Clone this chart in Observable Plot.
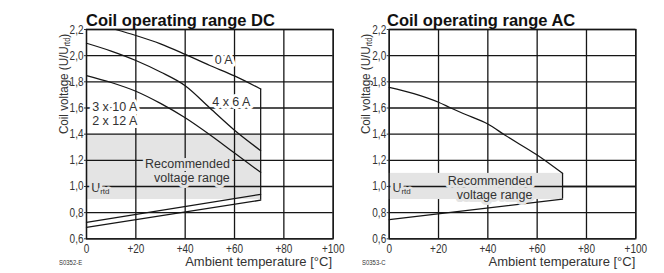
<!DOCTYPE html>
<html><head><meta charset="utf-8">
<script src="https://cdn.jsdelivr.net/npm/d3@7"></script>
<script src="https://cdn.jsdelivr.net/npm/@observablehq/plot@0.6"></script>
<style>
html,body{margin:0;padding:0;background:#fff;}
#wrap{position:relative;width:664px;height:273px;overflow:hidden;background:#fff;}
#wrap svg{position:absolute;left:0;top:0;}
.t{position:absolute;white-space:nowrap;line-height:1;color:#1a1a1a;font-family:"Liberation Sans",Arial,sans-serif;}
.title{font-weight:bold;font-size:16.5px;top:12px;color:#111;}
.ylab{font-size:13.5px;top:84px;transform:translate(-50%,-50%) rotate(-90deg) scale(0.86,1);color:#333;}
.ylab sub{font-size:8.5px;vertical-align:-2px;}
.xlab{font-size:13px;top:255.2px;color:#333;}
.code{font-size:7px;top:259px;color:#333;transform-origin:left center;transform:scale(0.85,1);}
</style>
</head><body>
<div id="wrap">
  <div class="t title" style="left:86px">Coil operating range DC</div>
  <div class="t title" style="left:387px">Coil operating range AC</div>
  <div class="t ylab" style="left:63.5px">Coil voltage (U/U<sub>rtd</sub>)</div>
  <div class="t ylab" style="left:366px">Coil voltage (U/U<sub>rtd</sub>)</div>
  <div class="t xlab" style="right:332px">Ambient temperature [°C]</div>
  <div class="t xlab" style="right:28.7px">Ambient temperature [°C]</div>
  <div class="t code" style="left:59.3px">S0352-E</div>
  <div class="t code" style="left:362px">S0353-C</div>
</div>
<script>
// ---- tick values ----
const xTicks = [0, 20, 40, 60, 80, 100];
const yTicks = [0.6, 0.8, 1.0, 1.2, 1.4, 1.6, 1.8, 2.0, 2.2];

// ---- DC chart data (ambient temperature °C, coil voltage U/Urtd) ----
const dc0A_t   = [11.8, 20, 30, 40, 50, 60, 70.6];
const dc0A_v   = [2.2, 2.154, 2.09, 2.01, 1.925, 1.845, 1.745];
const dc4x6_t  = [0, 10, 20, 30, 40, 50, 60, 70.6];
const dc4x6_v  = [2.095, 2.035, 1.963, 1.875, 1.77, 1.60, 1.43, 1.274];
const dc3x10_t = [0, 10, 20, 30, 40, 50, 60, 70.6];
const dc3x10_v = [1.848, 1.795, 1.728, 1.635, 1.525, 1.395, 1.255, 1.108];
const dcMinA_t = [0, 70.6];
const dcMinA_v = [0.725, 0.94];
const dcMinB_t = [0, 70.6];
const dcMinB_v = [0.687, 0.895];
const dcBand   = {x1: 0, x2: 70.6, y1: 0.9, y2: 1.4};

// ---- AC chart data ----
const acMax_t = [0, 10, 20, 25, 30, 40, 47.2, 60, 70.3];
const acMax_v = [1.758, 1.71, 1.644, 1.60, 1.558, 1.478, 1.389, 1.24, 1.10];
const acMin_t = [0, 70.3];
const acMin_v = [0.746, 0.904];
const acBand  = {x1: 0, x2: 70.3, y1: 0.9, y2: 1.1};

// ---- annotations (data coordinates) ----
const dcLabelsMid   = [
  {x: 55.6, y: 1.972, text: "0 A"},
  {x: 58.7, y: 1.649, text: "4 x 6 A"}
];
const dcLabelsStart = [
  {x: 2.3, y: 1.608, text: "3 x 10 A"},
  {x: 2.3, y: 1.507, text: "2 x 12 A"}
];
const dcLabelsBand = [{x: 58.1, y: 1.123, text: "Recommended\nvoltage range"}];
const acLabelsBand = [{x: 58.1, y: 0.991, text: "Recommended\nvoltage range"}];
const dcUrtd = {x: 1.9, y: 0.992};
const acUrtd = {x: 1.3, y: 0.992};

const pts = (t, v) => t.map((x, i) => ({x, y: v[i]}));
const INK = "#161616";
const BAND = "#e4e4e4";
const LABEL = "#333";
const SANS = "Liberation Sans, Arial, sans-serif";

function labelMarks(data, halo, anchor) {
  return Plot.text(data, {
    x: "x", y: "y", text: "text", textAnchor: anchor,
    fill: LABEL, stroke: halo, strokeWidth: 6, paintOrder: "stroke", strokeLinejoin: "round",
    fontSize: 12.5, fontFamily: SANS, lineHeight: 1.12
  });
}
function urtdMarks(p, halo) {
  return [
    Plot.text([p], {x: "x", y: "y", text: () => "U", textAnchor: "start", fill: LABEL,
      stroke: halo, strokeWidth: 6, paintOrder: "stroke", strokeLinejoin: "round", fontSize: 12.5, fontFamily: SANS}),
    Plot.text([p], {x: "x", y: "y", text: () => "rtd", textAnchor: "start", dx: 9, dy: 4, fill: LABEL,
      stroke: halo, strokeWidth: 5, paintOrder: "stroke", strokeLinejoin: "round", fontSize: 8, fontFamily: SANS})
  ];
}
function axes() {
  return [
    Plot.axisX(xTicks, {tickSize: 0, tickPadding: 5, tickFormat: d => d === 0 ? "0" : "+" + d, label: null, fontSize: 12.5, fill: "#333"}),
    Plot.axisY(yTicks, {tickSize: 2, tickPadding: 1, tickFormat: d => d.toFixed(1).replace(".", ","), label: null, fontSize: 12.5, fill: "#333"})
  ];
}
function grid() {
  return [
    Plot.gridX(xTicks, {stroke: INK, strokeOpacity: 1, strokeWidth: 1.3}),
    Plot.gridY(yTicks, {stroke: INK, strokeOpacity: 1, strokeWidth: 1.3})
  ];
}
function curve(t, v) {
  return Plot.line(pts(t, v), {x: "x", y: "y", curve: "monotone-x", stroke: INK, strokeWidth: 1.25});
}
function make(marginLeft, marginRight, marks) {
  return Plot.plot({
    width: 664, height: 273, marginLeft, marginRight, marginTop: 29, marginBottom: 34.7,
    x: {domain: [0, 100]}, y: {domain: [0.6, 2.2]},
    style: {background: "transparent", overflow: "visible", fontFamily: SANS, fontSize: "12px", color: "#333"},
    marks
  });
}
// narrow the tick labels horizontally (the original uses a condensed face)
function condense(svg, k) {
  svg.querySelectorAll('[aria-label="x-axis tick label"] text, [aria-label="y-axis tick label"] text').forEach(t => {
    const xa = t.getAttribute("x");
    if (xa && /^-?[\d.]+$/.test(xa)) t.setAttribute("x", (+xa / k).toString());
    const tr = t.getAttribute("transform") || "";
    t.setAttribute("transform", `${tr} scale(${k},1)`);
  });
  return svg;
}

const dc = make(86, 331.3, [
  Plot.rect([dcBand], {x1: "x1", x2: "x2", y1: "y1", y2: "y2", fill: BAND}),
  ...grid(),
  Plot.frame({stroke: INK, strokeWidth: 1.3}),
  ...axes(),
  curve(dc0A_t, dc0A_v),
  curve(dc4x6_t, dc4x6_v),
  curve(dc3x10_t, dc3x10_v),
  curve(dcMinA_t, dcMinA_v),
  curve(dcMinB_t, dcMinB_v),
  Plot.ruleX([{x: dc0A_t[dc0A_t.length - 1], y1: dcMinB_v[1], y2: dc0A_v[dc0A_v.length - 1]}],
    {x: "x", y1: "y1", y2: "y2", stroke: INK, strokeWidth: 1.25}),
  labelMarks(dcLabelsMid, "white", "middle"),
  labelMarks(dcLabelsStart, "white", "start"),
  labelMarks(dcLabelsBand, BAND, "end"),
  ...urtdMarks(dcUrtd, BAND)
]);

const ac = make(388.7, 28.7, [
  ...grid(),
  Plot.rect([acBand], {x1: "x1", x2: "x2", y1: "y1", y2: "y2", fill: BAND}),
  Plot.ruleY([1.0], {stroke: INK, strokeWidth: 1.3}),
  Plot.frame({stroke: INK, strokeWidth: 1.3}),
  ...axes(),
  curve(acMax_t, acMax_v),
  curve(acMin_t, acMin_v),
  Plot.ruleX([{x: acMax_t[acMax_t.length - 1], y1: acMin_v[1], y2: acMax_v[acMax_v.length - 1]}],
    {x: "x", y1: "y1", y2: "y2", stroke: INK, strokeWidth: 1.25}),
  labelMarks(acLabelsBand, BAND, "end"),
  ...urtdMarks(acUrtd, BAND)
]);

condense(dc, 0.8);
condense(ac, 0.8);
const wrap = document.getElementById("wrap");
wrap.insertBefore(ac, wrap.firstChild);
wrap.insertBefore(dc, wrap.firstChild);
</script>
</body></html>
